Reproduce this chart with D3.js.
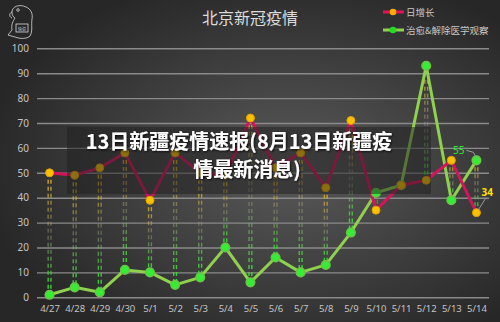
<!DOCTYPE html>
<html>
<head>
<meta charset="utf-8">
<script src="https://cdn.jsdelivr.net/npm/d3@7"></script>
<style>
  html, body { margin: 0; padding: 0; background: #2b2b2b; }
  svg { display: block; font-family: "Noto Sans CJK SC", "Noto Sans", sans-serif; }
</style>
</head>
<body>
<div id="vis"></div>
<script>
// data
const dates = ["4/27","4/28","4/29","4/30","5/1","5/2","5/3","5/4","5/5","5/6","5/7","5/8","5/9","5/10","5/11","5/12","5/13","5/14"];
const daily = [50,49,52,58,39,58,50,49,72,52,58,44,71,35,45,47,55,34];
const cured = [1,4,2,11,10,5,8,20,6,16,10,13,26,42,45,93,39,55];
const yTicks = [0,10,20,30,40,50,60,70,80,90,100];

const width = 500;
const height = 322;

const svg = d3.select('#vis')
  .append('svg')
  .attr('width', width)
  .attr('height', height);

const defs = svg.append('defs');

// dark background, lighter toward the middle
const bg = defs.append('radialGradient')
  .attr('id', 'bg')
  .attr('cx', '58%').attr('cy', '52%').attr('r', '62%');
bg.append('stop').attr('offset', '0%').attr('stop-color', '#5a5a5a');
bg.append('stop').attr('offset', '100%').attr('stop-color', '#272727');

svg.append('rect')
  .attr('width', width).attr('height', height)
  .attr('fill', 'url(#bg)');

// scales
const x = d3.scalePoint()
  .domain(dates)
  .range([37, 489])
  .padding(0.5);

const y = d3.scaleLinear()
  .domain([0, 100])
  .range([297.3, 48.3]);

// gridlines + y labels
const yAxis = svg.append('g')
  .attr('transform', 'translate(37,0)')
  .call(d3.axisLeft(y).tickValues(yTicks).tickSize(-452).tickPadding(8));
yAxis.select('.domain').remove();
yAxis.selectAll('.tick line')
  .attr('stroke', '#8a8a8a')
  .attr('stroke-width', 1.4);
yAxis.selectAll('.tick text')
  .attr('fill', '#c4c4c4')
  .attr('font-size', 10)
  .attr('font-family', '"Noto Sans", sans-serif');

// x labels
const xAxis = svg.append('g')
  .attr('transform', 'translate(0,297)')
  .call(d3.axisBottom(x).tickSize(0).tickPadding(8));
xAxis.select('.domain').remove();
xAxis.selectAll('.tick text')
  .attr('fill', '#c4c4c4')
  .attr('font-size', 9.5)
  .attr('font-family', '"Noto Sans", sans-serif');

// dashed drop lines between the two points of each day
const rows = dates.map((d, i) => ({ date: d, a: daily[i], b: cured[i] }));

rows.forEach((r, i) => {
  const top = y(Math.max(r.a, r.b));
  const bot = y(Math.min(r.a, r.b));
  const g = defs.append('linearGradient')
    .attr('id', 'drop' + i)
    .attr('gradientUnits', 'userSpaceOnUse')
    .attr('x1', 0).attr('x2', 0)
    .attr('y1', top).attr('y2', bot);
  g.append('stop').attr('offset', '0%').attr('stop-color', '#f2b705').attr('stop-opacity', 0.95);
  g.append('stop').attr('offset', '50%').attr('stop-color', '#9a9a7a').attr('stop-opacity', 0.45);
  g.append('stop').attr('offset', '100%').attr('stop-color', '#22ee22').attr('stop-opacity', 1);
});

const drops = svg.append('g');
[-1.4, 1.4].forEach(off => {
  drops.selectAll(null)
    .data(rows)
    .enter()
    .append('line')
    .attr('x1', d => x(d.date) + off)
    .attr('x2', d => x(d.date) + off)
    .attr('y1', d => y(Math.max(d.a, d.b)))
    .attr('y2', d => y(Math.min(d.a, d.b)))
    .attr('stroke', (d, i) => 'url(#drop' + i + ')')
    .attr('stroke-width', 1.4)
    .attr('stroke-dasharray', '4,3');
});

// lines
const line = d3.line().x((d, i) => x(dates[i])).y(d => y(d));

svg.append('path')
  .datum(cured)
  .attr('d', line)
  .attr('fill', 'none')
  .attr('stroke', '#8fd14f')
  .attr('stroke-width', 3)
  .attr('stroke-linejoin', 'round');

svg.append('path')
  .datum(daily)
  .attr('d', line)
  .attr('fill', 'none')
  .attr('stroke', '#d4145a')
  .attr('stroke-width', 3)
  .attr('stroke-linejoin', 'round');

// points
svg.append('g').selectAll('circle')
  .data(cured)
  .enter()
  .append('circle')
  .attr('cx', (d, i) => x(dates[i]))
  .attr('cy', d => y(d))
  .attr('r', 4.3)
  .attr('fill', '#33ee33')
  .attr('stroke', '#6cc24a')
  .attr('stroke-width', 1.5);

svg.append('g').selectAll('circle')
  .data(daily)
  .enter()
  .append('circle')
  .attr('cx', (d, i) => x(dates[i]))
  .attr('cy', d => y(d))
  .attr('r', 4)
  .attr('fill', '#ffc000')
  .attr('stroke', '#e0a000')
  .attr('stroke-width', 1);

// end labels with leader lines
const last = dates.length - 1;
const gx = x(dates[last]);

svg.append('polyline')
  .attr('points', [[gx - 10, y(cured[last]) - 10], [gx - 3, y(cured[last]) - 8], [gx, y(cured[last]) - 2]].join(' '))
  .attr('fill', 'none')
  .attr('stroke', '#9a9a9a')
  .attr('stroke-width', 1);
svg.append('text')
  .attr('x', gx - 12)
  .attr('y', y(cured[last]) - 6)
  .attr('text-anchor', 'end')
  .attr('fill', '#22ee22')
  .attr('font-size', 10)
  .attr('font-family', '"Noto Sans", sans-serif')
  .text(cured[last]);

svg.append('line')
  .attr('x1', gx + 2).attr('y1', y(daily[last]) - 3)
  .attr('x2', gx + 9).attr('y2', y(daily[last]) - 14)
  .attr('stroke', '#9a9a9a')
  .attr('stroke-width', 1);
svg.append('text')
  .attr('x', gx + 5)
  .attr('y', y(daily[last]) - 17)
  .attr('fill', '#ffe000')
  .attr('font-size', 10)
  .attr('font-weight', 'bold')
  .attr('font-family', '"Noto Sans", sans-serif')
  .text(daily[last]);

// title
svg.append('text')
  .attr('x', 250)
  .attr('y', 24)
  .attr('text-anchor', 'middle')
  .attr('fill', '#dcdcdc')
  .attr('font-size', 16)
  .text('北京新冠疫情');

// legend
const legend = [
  { name: '日增长', line: '#e8105a', dot: '#ffb000', y: 12 },
  { name: '治愈&解除医学观察', line: '#8fd14f', dot: '#22dd22', y: 30 }
];
const lg = svg.append('g').selectAll('g')
  .data(legend)
  .enter()
  .append('g');
lg.append('line')
  .attr('x1', 383).attr('x2', 404)
  .attr('y1', d => d.y).attr('y2', d => d.y)
  .attr('stroke', d => d.line)
  .attr('stroke-width', 3);
lg.append('circle')
  .attr('cx', 393).attr('cy', d => d.y)
  .attr('r', 3.3)
  .attr('fill', d => d.dot);
lg.append('text')
  .attr('x', 406)
  .attr('y', d => d.y + 3.5)
  .attr('fill', '#c8c8c8')
  .attr('font-size', 9.5)
  .text(d => d.name);

// little parrot mark, top left
const bird = svg.append('g')
  .attr('fill', 'none')
  .attr('stroke', '#d8d8d8')
  .attr('stroke-width', 0.8);
bird.append('path')
  .attr('d', 'M12,12 C12,6 20,4 26,7 C31,9 33,14 32,19 C31,25 33,31 30,36 C27,39 20,39 15,37 L8,35 L12,30 C11,25 13,21 15,18 C13,17 12,15 12,12 Z');
bird.append('path')
  .attr('d', 'M12,12 C9,13 9,17 12,18');
bird.append('circle').attr('cx', 18).attr('cy', 10).attr('r', 1.3);
bird.append('rect').attr('x', 16).attr('y', 24).attr('width', 12).attr('height', 8);
bird.append('text')
  .attr('x', 22).attr('y', 30.5)
  .attr('text-anchor', 'middle')
  .attr('fill', '#d8d8d8').attr('stroke', 'none')
  .attr('font-size', 4)
  .text('快资');

// banner overlay
svg.append('rect')
  .attr('x', 67).attr('y', 127)
  .attr('width', 364).attr('height', 67)
  .attr('fill', '#1e1e1e')
  .attr('fill-opacity', 0.5);

const shadow = defs.append('filter').attr('id', 'shadow')
  .attr('x', '-10%').attr('y', '-20%').attr('width', '120%').attr('height', '140%');
shadow.append('feDropShadow')
  .attr('dx', 1).attr('dy', 1).attr('stdDeviation', 1.2)
  .attr('flood-color', '#000').attr('flood-opacity', 0.8);

const banner = svg.append('text')
  .attr('fill', '#ffffff')
  .attr('font-size', 20)
  .attr('font-weight', 'bold')
  .attr('text-anchor', 'middle')
  .attr('filter', 'url(#shadow)');
banner.append('tspan').attr('x', 239).attr('y', 149).text('13日新疆疫情速报(8月13日新疆疫');
banner.append('tspan').attr('x', 247).attr('y', 177).text('情最新消息)');
</script>
</body>
</html>
